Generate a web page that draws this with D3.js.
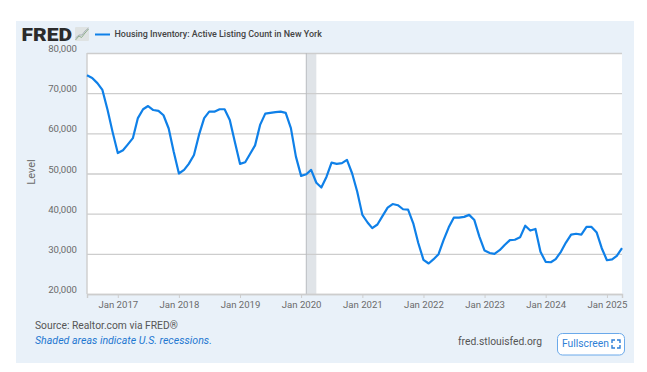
<!DOCTYPE html>
<html><head><meta charset="utf-8">
<script src="https://cdn.jsdelivr.net/npm/d3@7/dist/d3.min.js"></script>
<style>html,body{margin:0;padding:0;background:#fff}svg{display:block}text{font-family:Roboto,sans-serif}</style>
</head><body><svg id="c" width="647" height="372"></svg>
<script>
const startMonth = "2016-07";
const seriesName = "Housing Inventory: Active Listing Count in New York";
const listingCounts = [
74450,73800,72500,70800,65800,60300,55100,55800,57200,58800,63800,66000,
66800,65800,65600,64500,61200,55400,50000,50900,52400,54600,59600,63800,
65400,65400,66000,66000,63300,57900,52400,52800,54800,57000,62100,64900,
65100,65300,65400,65100,61300,54200,49400,49800,50900,47700,46500,49200,
52700,52400,52600,53400,50000,45500,39700,37800,36400,37300,39400,41500,
42400,42100,41100,41000,37600,32700,28500,27600,28600,29900,33400,36600,
39000,39000,39200,39700,38400,34300,30800,30200,30000,30900,32200,33400,
33500,34100,37000,35800,36200,30500,28000,27900,28700,30500,32800,34800,
35000,34800,36700,36700,35300,31400,28400,28600,29500,31400];
const yTicks = [20000,30000,40000,50000,60000,70000,80000];
const xTickYears = [2017,2018,2019,2020,2021,2022,2023,2024,2025];
const recession = ["2020-02","2020-04"];

const parse = d3.timeParse("%Y-%m");
const start = parse(startMonth);
const dates = listingCounts.map((_,i)=>d3.timeMonth.offset(start,i));
const pts = listingCounts.map((v,i)=>({d:dates[i],v}));
const L=87,R=622,T=53,B=294;
const x=d3.scaleTime().domain([dates[0],dates[dates.length-1]]).range([L,R]);
const y=d3.scaleLinear().domain([20000,80000]).range([B,T]);
const svg=d3.select("#c");
const GREY="#6b6b6b", GRID="#cdcdcd", BLUE="#0f80e8";

svg.append("rect").attr("x",16).attr("y",21).attr("width",618).attr("height",342).attr("fill","#e9f1f9");
svg.append("rect").attr("x",L).attr("y",T).attr("width",R-L).attr("height",B-T).attr("fill","#fff");

// recession band
const r0=x(parse(recession[0])), r1=x(parse(recession[1]));
svg.append("rect").attr("x",r0).attr("y",T).attr("width",r1-r0).attr("height",B-T).attr("fill","#e0e4e8");

// grid
const yAxis=svg.append("g").attr("transform",`translate(${L},0)`)
  .call(d3.axisLeft(y).tickValues(yTicks).tickSize(-(R-L)).tickFormat(d3.format(",")));
yAxis.select(".domain").remove();
yAxis.selectAll("line").attr("stroke",GRID).attr("stroke-width",1.4);
yAxis.selectAll("text").attr("x",-10).attr("dy",null).attr("y",-4).attr("dominant-baseline","middle")
  .attr("text-anchor","end").attr("fill",GREY).style("font-size","9.6px").style("font-family","Roboto,sans-serif");

svg.append("line").attr("x1",r0).attr("x2",r0).attr("y1",T).attr("y2",B).attr("stroke","#b9bcc0").attr("stroke-width",1);
svg.append("line").attr("x1",L).attr("x2",L).attr("y1",T).attr("y2",B).attr("stroke",GRID).attr("stroke-width",1.4);

// x axis
const xAxis=svg.append("g").attr("transform",`translate(0,${B})`)
  .call(d3.axisBottom(x).tickValues(xTickYears.map(yr=>new Date(yr,0,1))).tickSize(4).tickFormat(d3.timeFormat("Jan %Y")));
xAxis.select(".domain").attr("stroke",GRID).attr("stroke-width",1.4);
xAxis.selectAll("line").attr("stroke",GRID);
xAxis.selectAll("text").attr("y",0).attr("dy",null).attr("transform","translate(0,11)").attr("dominant-baseline","middle")
  .attr("fill",GREY).style("font-size","9.6px").style("font-family","Roboto,sans-serif");

// line
svg.append("path").datum(pts).attr("fill","none").attr("stroke",BLUE).attr("stroke-width",2.2)
  .attr("stroke-linejoin","round").attr("d",d3.line().x(d=>x(d.d)).y(d=>y(d.v)));

// y title
svg.append("text").attr("transform","translate(32,172) rotate(-90)").attr("text-anchor","middle")
  .attr("dominant-baseline","middle").attr("fill",GREY).style("font-size","11px").text("Level");

// logo
svg.append("text").attr("x",21.5).attr("y",40.7).attr("fill","#2b2b2b").style("font-size","18.5px").style("font-weight","900")
  .style("font-family","Roboto,sans-serif").attr("textLength",50.5).attr("lengthAdjust","spacingAndGlyphs").text("FRED");
const icon=svg.append("g").attr("transform","translate(75,27)");
icon.append("rect").attr("width",14).attr("height",14).attr("rx",1).attr("fill","#dfe3e3");
icon.append("path").attr("d","M0.5 13 L4 9 L6.5 10.5 L10 6 L13.5 2").attr("fill","none").attr("stroke","#8fae8c").attr("stroke-width",1);
icon.append("path").attr("d","M0.5 11 L4 8 L7 8 L10 4 L13.5 1").attr("fill","none").attr("stroke","#9aa5ad").attr("stroke-width",.8);

// legend
svg.append("line").attr("x1",95).attr("x2",110).attr("y1",34.5).attr("y2",34.5).attr("stroke",BLUE).attr("stroke-width",2);
svg.append("text").attr("x",114.5).attr("y",34.5).attr("dominant-baseline","middle").attr("fill","#444")
  .style("font-size","8.95px").style("font-weight","500").text(seriesName);

// footer
svg.append("text").attr("x",35).attr("y",326).attr("dominant-baseline","middle").attr("fill","#555")
  .style("font-size","10.3px").text("Source: Realtor.com via FRED®");
svg.append("text").attr("x",35).attr("y",341).attr("dominant-baseline","middle").attr("fill","#1f78d1")
  .style("font-size","10.6px").style("font-style","italic").text("Shaded areas indicate U.S. recessions.");
svg.append("text").attr("x",458).attr("y",342).attr("dominant-baseline","middle").attr("fill","#555")
  .style("font-size","10.3px").text("fred.stlouisfed.org");

// button
svg.append("rect").attr("x",557.5).attr("y",333.5).attr("width",67).attr("height",21.5).attr("rx",5)
  .attr("fill","#fff").attr("stroke","#6aa9ea").attr("stroke-width",1);
svg.append("text").attr("x",562).attr("y",344.5).attr("dominant-baseline","middle").attr("fill","#2f7fd6")
  .style("font-size","10.3px").text("Fullscreen");
svg.append("path").attr("d","M612 343V340H615 M617 340H620V343 M620 345V348H617 M615 348H612V345")
  .attr("fill","none").attr("stroke","#2f7fd6").attr("stroke-width",1.4);
</script></body></html>
